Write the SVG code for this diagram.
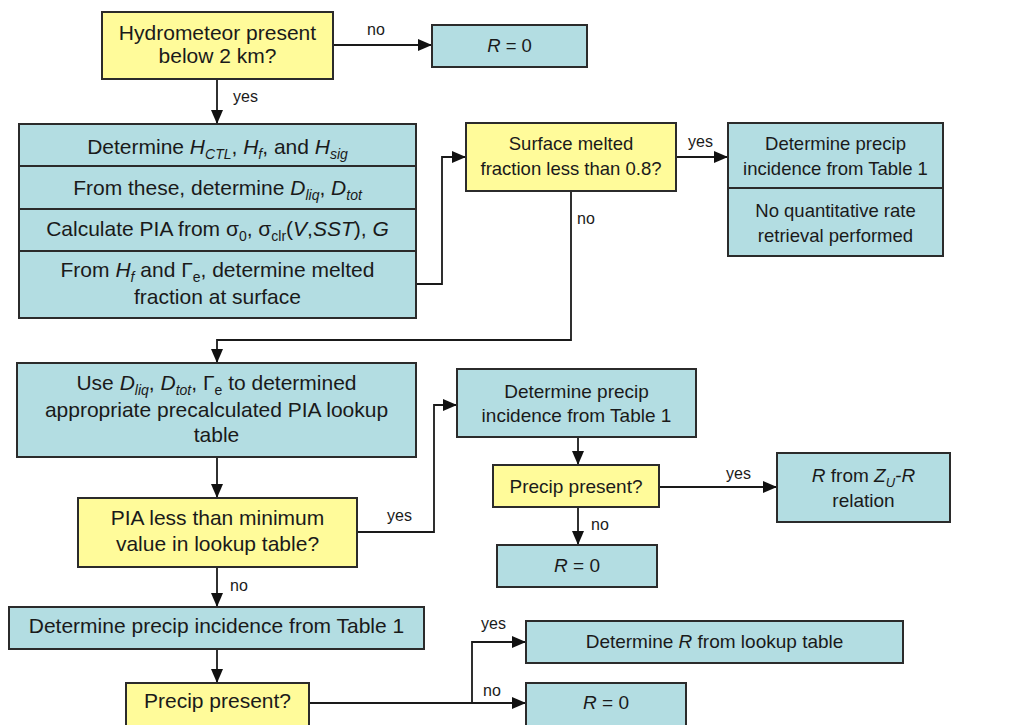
<svg xmlns="http://www.w3.org/2000/svg" width="1019" height="725" viewBox="0 0 1019 725">
<defs>
<style>
.box{stroke:#2b2b2b;stroke-width:2}
.teal{fill:#b3dde2}
.yel{fill:#fffb9a}
.div{stroke:#2b2b2b;stroke-width:2}
text{font-family:"Liberation Sans",Arial,sans-serif;fill:#1a1a1a;text-anchor:middle}
.L{font-size:21px}
.S{font-size:18.5px}
.M{font-size:19px}
.i{font-style:italic}
.sub{font-size:14px}
.subs{font-size:13px}
.lab{font-size:16px;text-anchor:start}
.con{fill:none;stroke:#1a1a1a;stroke-width:1.8;marker-end:url(#ah)}
</style>
<marker id="ah" markerUnits="userSpaceOnUse" markerWidth="14" markerHeight="12" refX="14" refY="6" orient="auto">
<path d="M0,0 L14,6 L0,12 z" fill="#111"/>
</marker>
</defs>
<rect width="1019" height="725" fill="#ffffff"/>

<g id="connectors">
<path class="con" d="M333,45 H432"/>
<path class="con" d="M217,79 V124"/>
<path class="con" d="M416,284 H442 V157 H466"/>
<path class="con" d="M676,157 H728"/>
<path class="con" d="M571,191 V340 H217 V363"/>
<path class="con" d="M217,457 V498"/>
<path class="con" d="M357,532 H434 V405 H457"/>
<path class="con" d="M217,567 V607"/>
<path class="con" d="M217,649 V683"/>
<path class="con" d="M578,437 V465"/>
<path class="con" d="M659,487 H777"/>
<path class="con" d="M578,507 V545"/>
<path class="con" d="M309,703 H472 V642 H526"/>
<path class="con" d="M472,703 H526"/>
<text class="lab" x="367" y="35">no</text>
<text class="lab" x="233" y="102">yes</text>
<text class="lab" x="688" y="147">yes</text>
<text class="lab" x="577" y="224">no</text>
<text class="lab" x="387" y="521">yes</text>
<text class="lab" x="230" y="591">no</text>
<text class="lab" x="726" y="479">yes</text>
<text class="lab" x="591" y="530">no</text>
<text class="lab" x="481" y="629">yes</text>
<text class="lab" x="483" y="696">no</text>
</g>

<g id="n1">
<rect class="box yel" x="102" y="12" width="231" height="67"/>
<text class="L" x="217.5" y="40">Hydrometeor present</text>
<text class="L" x="217.5" y="63">below 2 km?</text>
</g>

<g id="n2">
<rect class="box teal" x="432" y="25" width="155" height="42"/>
<text class="S" x="509.5" y="52"><tspan class="i">R</tspan> = 0</text>
</g>

<g id="n3">
<rect class="box teal" x="19" y="124" width="397" height="194"/>
<line class="div" x1="19" y1="166" x2="416" y2="166"/>
<line class="div" x1="19" y1="209" x2="416" y2="209"/>
<line class="div" x1="19" y1="251" x2="416" y2="251"/>
<text class="L" x="217.5" y="154">Determine <tspan class="i">H</tspan><tspan class="sub i" dy="5">CTL</tspan><tspan dy="-5">, </tspan><tspan class="i">H</tspan><tspan class="sub i" dy="5">f</tspan><tspan dy="-5">, and </tspan><tspan class="i">H</tspan><tspan class="sub i" dy="5">sig</tspan></text>
<text class="L" x="217.5" y="195">From these, determine <tspan class="i">D</tspan><tspan class="sub i" dy="5">liq</tspan><tspan dy="-5">, </tspan><tspan class="i">D</tspan><tspan class="sub i" dy="5">tot</tspan></text>
<text class="L" x="217.5" y="236">Calculate PIA from σ<tspan class="sub" dy="5">0</tspan><tspan dy="-5">, σ</tspan><tspan class="sub" dy="5">clr</tspan><tspan dy="-5">(</tspan><tspan class="i">V</tspan>,<tspan class="i">SST</tspan>), <tspan class="i">G</tspan></text>
<text class="L" x="217.5" y="277">From <tspan class="i">H</tspan><tspan class="sub i" dy="5">f</tspan><tspan dy="-5"> and Γ</tspan><tspan class="sub" dy="5">e</tspan><tspan dy="-5">, determine melted</tspan></text>
<text class="L" x="217.5" y="304">fraction at surface</text>
</g>

<g id="n4">
<rect class="box yel" x="466" y="123" width="210" height="68"/>
<text class="S" x="571" y="150">Surface melted</text>
<text class="S" x="571" y="175">fraction less than 0.8?</text>
</g>

<g id="n5">
<rect class="box teal" x="728" y="123" width="215" height="133"/>
<line class="div" x1="728" y1="188" x2="943" y2="188"/>
<text class="S" x="835.5" y="150">Determine precip</text>
<text class="S" x="835.5" y="175">incidence from Table 1</text>
<text class="S" x="835.5" y="217">No quantitative rate</text>
<text class="S" x="835.5" y="242">retrieval performed</text>
</g>

<g id="n6">
<rect class="box teal" x="17" y="363" width="399" height="94"/>
<text class="L" x="216.5" y="390">Use <tspan class="i">D</tspan><tspan class="sub i" dy="5">liq</tspan><tspan dy="-5">, </tspan><tspan class="i">D</tspan><tspan class="sub i" dy="5">tot</tspan><tspan dy="-5">, Γ</tspan><tspan class="sub" dy="5">e</tspan><tspan dy="-5"> to determined</tspan></text>
<text class="L" x="216.5" y="417">appropriate precalculated PIA lookup</text>
<text class="L" x="216.5" y="442">table</text>
</g>

<g id="n7">
<rect class="box yel" x="78" y="498" width="279" height="69"/>
<text class="L" x="217.5" y="525">PIA less than minimum</text>
<text class="L" x="217.5" y="551">value in lookup table?</text>
</g>

<g id="n8">
<rect class="box teal" x="9" y="607" width="415" height="42"/>
<text class="L" x="216.5" y="633">Determine precip incidence from Table 1</text>
</g>

<g id="n9">
<rect class="box yel" x="126" y="683" width="183" height="60"/>
<text class="L" x="217.5" y="708">Precip present?</text>
</g>

<g id="n10">
<rect class="box teal" x="457" y="369" width="239" height="68"/>
<text class="M" x="576.5" y="398">Determine precip</text>
<text class="M" x="576.5" y="422">incidence from Table 1</text>
</g>

<g id="n11">
<rect class="box yel" x="493" y="465" width="166" height="42"/>
<text class="M" x="576" y="493">Precip present?</text>
</g>

<g id="n12">
<rect class="box teal" x="777" y="453" width="173" height="69"/>
<text class="M" x="863.5" y="482"><tspan class="i">R</tspan> from <tspan class="i">Z</tspan><tspan class="subs i" dy="5">U</tspan><tspan class="i" dy="-5">-R</tspan></text>
<text class="M" x="863.5" y="507">relation</text>
</g>

<g id="n13">
<rect class="box teal" x="497" y="545" width="160" height="42"/>
<text class="M" x="577" y="572"><tspan class="i">R</tspan> = 0</text>
</g>

<g id="n14">
<rect class="box teal" x="526" y="621" width="377" height="42"/>
<text class="M" x="714.5" y="648">Determine <tspan class="i">R</tspan> from lookup table</text>
</g>

<g id="n15">
<rect class="box teal" x="526" y="683" width="160" height="60"/>
<text class="M" x="606" y="709"><tspan class="i">R</tspan> = 0</text>
</g>
</svg>
